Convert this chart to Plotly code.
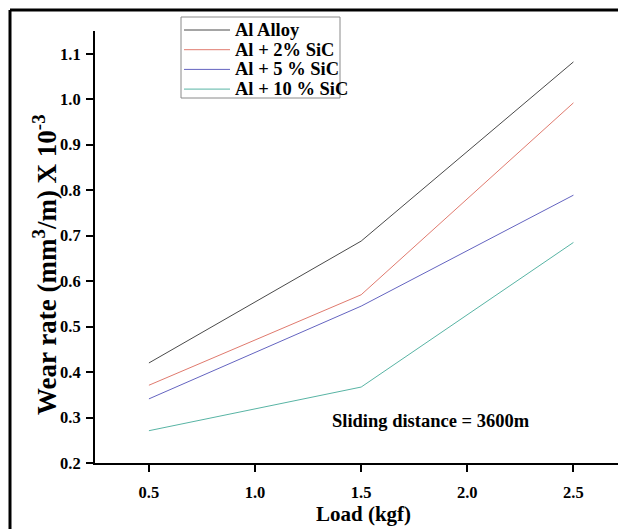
import plotly.graph_objects as go

load = [0.5, 1.5, 2.5]
series_names = ["Al Alloy", "Al + 2% SiC", "Al + 5 % SiC", "Al + 10 % SiC"]
al_alloy = [0.42, 0.688, 1.082]
al_2sic = [0.371, 0.570, 0.992]
al_5sic = [0.341, 0.545, 0.789]
al_10sic = [0.271, 0.367, 0.685]
colors = ["#4a4a4a", "#e07a6e", "#6464c0", "#58b4a4"]
x_ticks = [0.5, 1.0, 1.5, 2.0, 2.5]
y_ticks = [0.2, 0.3, 0.4, 0.5, 0.6, 0.7, 0.8, 0.9, 1.0, 1.1]

FONT = "'Liberation Serif', 'Times New Roman', 'DejaVu Serif', serif"
W, H = 618, 529
ml, mr, mt, mb = 95, 0, 31, 66
pw, ph = W - ml - mr, H - mt - mb


def px_x(p):
    return (p - ml) / pw


def px_y(p):
    return 1 - (p - mt) / ph


fig = go.Figure()
for name, vals, c in zip(series_names, [al_alloy, al_2sic, al_5sic, al_10sic], colors):
    fig.add_trace(go.Scatter(x=load, y=vals, mode="lines", name=name,
                             line=dict(color=c, width=1), showlegend=False))

axis_common = dict(showline=True, linecolor="black", linewidth=2, ticks="outside",
                   ticklen=7, tickwidth=2, tickcolor="black", showgrid=False,
                   zeroline=False, mirror=False,
                   tickfont=dict(family=FONT, size=16.5, color="black", weight="bold"))

fig.update_xaxes(range=[0.246, 2.71], tickvals=x_ticks, ticklabelstandoff=6,
                 ticktext=[f"{v:.1f}" for v in x_ticks], **axis_common)
fig.update_yaxes(range=[0.2, 1.15], tickvals=y_ticks, ticklabelstandoff=2,
                 ticktext=[f"{v:.1f}" for v in y_ticks], **axis_common)

fig.add_annotation(text="Load (kgf)", xref="paper", yref="paper",
                   x=px_x(363), y=px_y(514), xanchor="center", yanchor="middle",
                   showarrow=False,
                   font=dict(family=FONT, size=21, color="black", weight="bold"))
fig.add_annotation(text="Wear rate (mm<sup>3</sup>/m) X 10<sup>-3</sup>", xref="paper", yref="paper",
                   x=px_x(45), y=px_y(265), xanchor="center", yanchor="middle",
                   showarrow=False, textangle=-90,
                   font=dict(family=FONT, size=27, color="black", weight="bold"))
fig.add_annotation(text="Sliding distance = 3600m", xref="x", yref="y",
                   x=1.827, y=0.292, xanchor="center", yanchor="middle", showarrow=False,
                   font=dict(family=FONT, size=18.5, color="black", weight="bold"))

# outer frame (top and left edges visible)
fig.add_shape(type="line", xref="paper", yref="paper", x0=px_x(10), x1=px_x(640),
              y0=px_y(10), y1=px_y(10), line=dict(color="black", width=3))
fig.add_shape(type="line", xref="paper", yref="paper", x0=px_x(10), x1=px_x(10),
              y0=px_y(10), y1=px_y(560), line=dict(color="black", width=3))

# legend (compact, like the reference)
leg_left, leg_right, leg_top, leg_bottom = 181, 340, 17, 98
row0, row_gap = 30, 19.7
fig.add_shape(type="rect", xref="paper", yref="paper",
              x0=px_x(leg_left), x1=px_x(leg_right), y0=px_y(leg_top), y1=px_y(leg_bottom),
              line=dict(color="#8a8a8a", width=1), fillcolor="white", layer="above")
for i, (name, c) in enumerate(zip(series_names, colors)):
    yy = row0 + i * row_gap
    fig.add_shape(type="line", xref="paper", yref="paper",
                  x0=px_x(184), x1=px_x(230), y0=px_y(yy), y1=px_y(yy),
                  line=dict(color=c, width=1), layer="above")
    fig.add_annotation(text=name, xref="paper", yref="paper",
                       x=px_x(233), y=px_y(yy), xanchor="left", yanchor="middle",
                       showarrow=False,
                       font=dict(family=FONT, size=18.5, color="black", weight="bold"))

fig.update_layout(
    width=W, height=H,
    margin=dict(l=ml, r=mr, t=mt, b=mb),
    paper_bgcolor="white", plot_bgcolor="white",
    showlegend=False,
)

fig.write_html("out.html", config={"displayModeBar": False},
               post_script="document.body.style.margin='0px';document.body.style.overflow='hidden';")
